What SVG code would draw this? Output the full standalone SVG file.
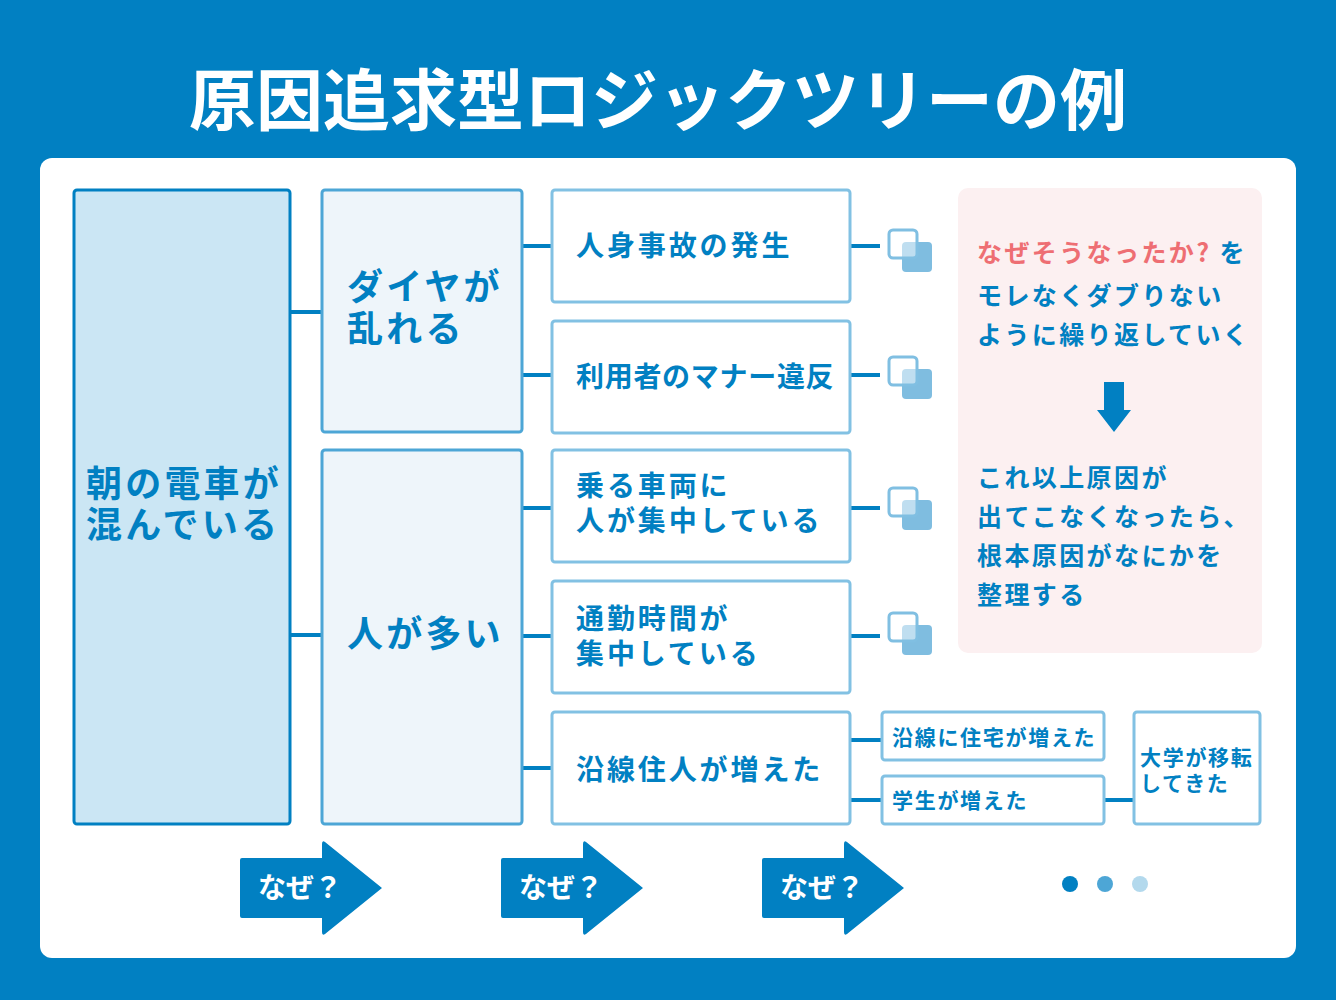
<svg xmlns="http://www.w3.org/2000/svg" width="1336" height="1000" viewBox="0 0 1336 1000">
<style>
text{font-family:"Noto Sans CJK JP","Noto Sans",sans-serif;font-weight:700}
.t1{fill:#0180C2;font-size:36px;letter-spacing:3.2px}
.t3{fill:#0180C2;font-size:28px;letter-spacing:2.9px}
.t4{fill:#0180C2;font-size:21px;letter-spacing:1.7px}
.tp{fill:#0180C2;font-size:25px;letter-spacing:2.4px}
.l2{fill:#EEF5FA;stroke:#4DA6D6;stroke-width:3}
.l3{fill:#fff;stroke:#82C1E3;stroke-width:3}
.c{stroke:#0180C2;stroke-width:4;fill:none}
.why{fill:#0180C2}
.wt{fill:#fff;font-size:28px}
.cbf{fill:#7FBDE0}
.cbo{fill:#fff;fill-opacity:0.5;stroke:#80BFE2;stroke-width:3}
</style>
<defs>
<g id="cb">
<rect class="cbf" x="13" y="12" width="30" height="30" rx="4"/>
<rect class="cbo" x="0" y="0" width="28" height="28" rx="4"/>
</g>
<path id="arr" d="M2,16 H82 V2 Q82,-2 85,0 L142,46 L85,92 Q82,94 82,90 V76 H2 Q0,76 0,74 V18 Q0,16 2,16 Z"/>
</defs>
<rect width="1336" height="1000" fill="#0180C2"/>
<text x="658" y="125" text-anchor="middle" style="fill:#fff;font-size:67px">原因追求型ロジックツリーの例</text>
<rect x="40" y="158" width="1256" height="800" rx="12" fill="#fff"/>

<g id="connectors">
<path class="c" d="M291,312H321M291,635H321"/>
<path class="c" d="M523,246H551M523,375H551M523,508H551M523,636H551M523,768H551"/>
<path class="c" d="M851,246H880M851,375H880M851,508H880M851,636H880"/>
<path class="c" d="M851,740H881M851,800H881M1105,800H1133"/>
</g>

<g id="root">
<rect x="74" y="190" width="216" height="634" rx="3" fill="#CBE6F4" stroke="#0180C2" stroke-width="3"/>
<text class="t1" x="86" y="497">朝の電車が</text>
<text class="t1" x="86" y="538">混んでいる</text>
</g>

<g id="n-daiya">
<rect class="l2" x="322" y="190" width="200" height="242" rx="3"/>
<text class="t1" x="347" y="300">ダイヤが</text>
<text class="t1" x="347" y="342">乱れる</text>
</g>
<g id="n-hito">
<rect class="l2" x="322" y="450" width="200" height="374" rx="3"/>
<text class="t1" x="347" y="647">人が多い</text>
</g>

<g id="n-jiko">
<rect class="l3" x="552" y="190" width="298" height="112" rx="3"/>
<text class="t3" x="576" y="256">人身事故の発生</text>
</g>
<g id="n-manner">
<rect class="l3" x="552" y="321" width="298" height="112" rx="3"/>
<text class="t3" x="576" y="387" style="letter-spacing:0.7px">利用者のマナー違反</text>
</g>
<g id="n-sharyo">
<rect class="l3" x="552" y="450" width="298" height="112" rx="3"/>
<text class="t3" x="576" y="496">乗る車両に</text>
<text class="t3" x="576" y="531">人が集中している</text>
</g>
<g id="n-tsukin">
<rect class="l3" x="552" y="581" width="298" height="112" rx="3"/>
<text class="t3" x="576" y="629">通勤時間が</text>
<text class="t3" x="576" y="664">集中している</text>
</g>
<g id="n-ensen">
<rect class="l3" x="552" y="712" width="298" height="112" rx="3"/>
<text class="t3" x="576" y="780">沿線住人が増えた</text>
</g>

<g id="cb1"><use href="#cb" x="889" y="230"/></g>
<g id="cb2"><use href="#cb" x="889" y="357"/></g>
<g id="cb3"><use href="#cb" x="889" y="488"/></g>
<g id="cb4"><use href="#cb" x="889" y="613"/></g>

<g id="n-jutaku">
<rect class="l3" x="882" y="712" width="222" height="48" rx="3"/>
<text class="t4" x="892" y="745">沿線に住宅が増えた</text>
</g>
<g id="n-gakusei">
<rect class="l3" x="882" y="776" width="222" height="48" rx="3"/>
<text class="t4" x="892" y="808">学生が増えた</text>
</g>
<g id="n-daigaku">
<rect class="l3" x="1134" y="712" width="126" height="112" rx="3"/>
<text class="t4" x="1140" y="765">大学が移転</text>
<text class="t4" x="1140" y="791">してきた</text>
</g>

<g id="note">
<rect x="958" y="188" width="304" height="465" rx="10" fill="#FCF0F1"/>
<text class="tp" x="977" y="262"><tspan style="fill:#EE6E73">なぜそうなったか?</tspan> を</text>
<text class="tp" x="977" y="305">モレなくダブりない</text>
<text class="tp" x="977" y="344">ように繰り返していく</text>
<path d="M1104,382H1124V410H1131L1114,432L1097,410H1104Z" fill="#0180C2"/>
<text class="tp" x="977" y="487">これ以上原因が</text>
<text class="tp" x="977" y="526">出てこなくなったら、</text>
<text class="tp" x="977" y="565">根本原因がなにかを</text>
<text class="tp" x="977" y="604">整理する</text>
</g>

<g id="why1"><use href="#arr" class="why" x="240" y="842"/><text class="wt" x="300" y="898" text-anchor="middle">なぜ？</text></g>
<g id="why2"><use href="#arr" class="why" x="501" y="842"/><text class="wt" x="561" y="898" text-anchor="middle">なぜ？</text></g>
<g id="why3"><use href="#arr" class="why" x="762" y="842"/><text class="wt" x="822" y="898" text-anchor="middle">なぜ？</text></g>

<g id="dots">
<circle cx="1070" cy="884" r="8" fill="#0180C2"/>
<circle cx="1105" cy="884" r="8" fill="#4DA6D6"/>
<circle cx="1140" cy="884" r="8" fill="#B3D9ED"/>
</g>
</svg>
